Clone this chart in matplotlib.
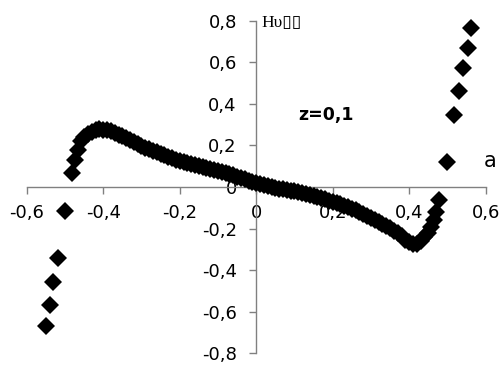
import matplotlib
matplotlib.use("Agg")
import matplotlib.pyplot as plt
from matplotlib.ticker import FixedLocator, FixedFormatter

# ---- data ----
x_left_branch = [-0.549, -0.540, -0.530, -0.519, -0.499, -0.481, -0.473, -0.466, -0.457]
y_left_branch = [-0.668, -0.567, -0.455, -0.342, -0.117, 0.067, 0.131, 0.179, 0.220]

x_middle = [-0.45, -0.44, -0.43, -0.42, -0.41, -0.40, -0.39, -0.38, -0.37, -0.36,
            -0.35, -0.34, -0.33, -0.32, -0.31, -0.30, -0.29, -0.28, -0.27, -0.26,
            -0.25, -0.24, -0.23, -0.22, -0.21, -0.20, -0.19, -0.18, -0.17, -0.16,
            -0.15, -0.14, -0.13, -0.12, -0.11, -0.10, -0.09, -0.08, -0.07, -0.06,
            -0.05, -0.04, -0.03, -0.02, -0.01, 0.00, 0.01, 0.02, 0.03, 0.04,
            0.05, 0.06, 0.07, 0.08, 0.09, 0.10, 0.11, 0.12, 0.13, 0.14,
            0.15, 0.16, 0.17, 0.18, 0.19, 0.20, 0.21, 0.22, 0.23, 0.24,
            0.25, 0.26, 0.27, 0.28, 0.29, 0.30, 0.31, 0.32, 0.33, 0.34,
            0.35, 0.36, 0.37, 0.38, 0.39, 0.40, 0.41, 0.42, 0.43, 0.44, 0.45]
y_middle = [0.240, 0.255, 0.266, 0.273, 0.277, 0.276, 0.273, 0.268, 0.261, 0.252,
            0.243, 0.234, 0.225, 0.216, 0.207, 0.198, 0.190, 0.182, 0.174, 0.166,
            0.159, 0.152, 0.145, 0.138, 0.131, 0.125, 0.120, 0.114, 0.109, 0.104,
            0.099, 0.095, 0.090, 0.085, 0.080, 0.076, 0.071, 0.066, 0.061, 0.056,
            0.050, 0.044, 0.038, 0.031, 0.025, 0.019, 0.014, 0.009, 0.004, 0.000,
            -0.004, -0.008, -0.011, -0.014, -0.017, -0.021, -0.025, -0.030, -0.035, -0.040,
            -0.045, -0.050, -0.055, -0.060, -0.065, -0.071, -0.077, -0.083, -0.090, -0.097,
            -0.105, -0.113, -0.122, -0.131, -0.141, -0.150, -0.159, -0.168, -0.178, -0.188,
            -0.198, -0.210, -0.223, -0.238, -0.253, -0.266, -0.275, -0.274, -0.262, -0.242, -0.220]

x_right_branch = [0.458, 0.466, 0.471, 0.477, 0.498, 0.518, 0.531, 0.540, 0.553, 0.562]
y_right_branch = [-0.190, -0.157, -0.122, -0.061, 0.118, 0.348, 0.460, 0.573, 0.669, 0.765]

x_tick_values = [-0.6, -0.4, -0.2, 0.0, 0.2, 0.4, 0.6]
x_tick_labels = ["-0,6", "-0,4", "-0,2", "0", "0,2", "0,4", "0,6"]
y_tick_values = [-0.8, -0.6, -0.4, -0.2, 0.0, 0.2, 0.4, 0.6, 0.8]
y_tick_labels = ["-0,8", "-0,6", "-0,4", "-0,2", "0", "0,2", "0,4", "0,6", "0,8"]

axis_label = "H\u03c5\u25af\u25af"
annotation_text = "z=0,1"
series_label = "a"

# ---- figure ----
fig = plt.figure(figsize=(5.03, 3.67), dpi=100)
ax = fig.add_axes([0.0531, 0.0373, 0.9125, 0.9063])
ax.set_xlim(-0.6, 0.6)
ax.set_ylim(-0.8, 0.8)

spine_color = "#808080"
for s in ("top", "right"):
    ax.spines[s].set_visible(False)
ax.spines["left"].set_position("zero")
ax.spines["bottom"].set_position("zero")
for s in ("left", "bottom"):
    ax.spines[s].set_color(spine_color)
    ax.spines[s].set_linewidth(1.0)

ax.xaxis.set_major_locator(FixedLocator(x_tick_values))
ax.xaxis.set_major_formatter(FixedFormatter(x_tick_labels))
ax.yaxis.set_major_locator(FixedLocator(y_tick_values))
ax.yaxis.set_major_formatter(FixedFormatter(y_tick_labels))
ax.tick_params(axis="both", direction="out", length=5, width=1.0,
               color=spine_color, labelsize=13, labelcolor="black")
ax.tick_params(axis="x", pad=7.5)
ax.tick_params(axis="y", pad=9)
for lab in ax.get_xticklabels() + ax.get_yticklabels():
    lab.set_family("DejaVu Sans")

xs = x_left_branch + x_middle + x_right_branch
ys = y_left_branch + y_middle + y_right_branch
ax.plot(xs, ys, linestyle="none", marker="D", markersize=9.0,
        markerfacecolor="black", markeredgewidth=0, color="black",
        clip_on=False, zorder=3)

ax.text(0.015, 0.768, axis_label, family=["Liberation Serif", "DejaVu Serif"],
        fontsize=12.5, va="baseline", ha="left", color="black")
ax.text(0.109, 0.324, annotation_text, family="DejaVu Sans", fontweight="bold",
        fontsize=12.5, va="baseline", ha="left", color="black")
ax.text(0.594, 0.098, series_label, family="DejaVu Sans",
        fontsize=15, va="baseline", ha="left", color="black", clip_on=False)

fig.savefig("out.png", dpi=100)
